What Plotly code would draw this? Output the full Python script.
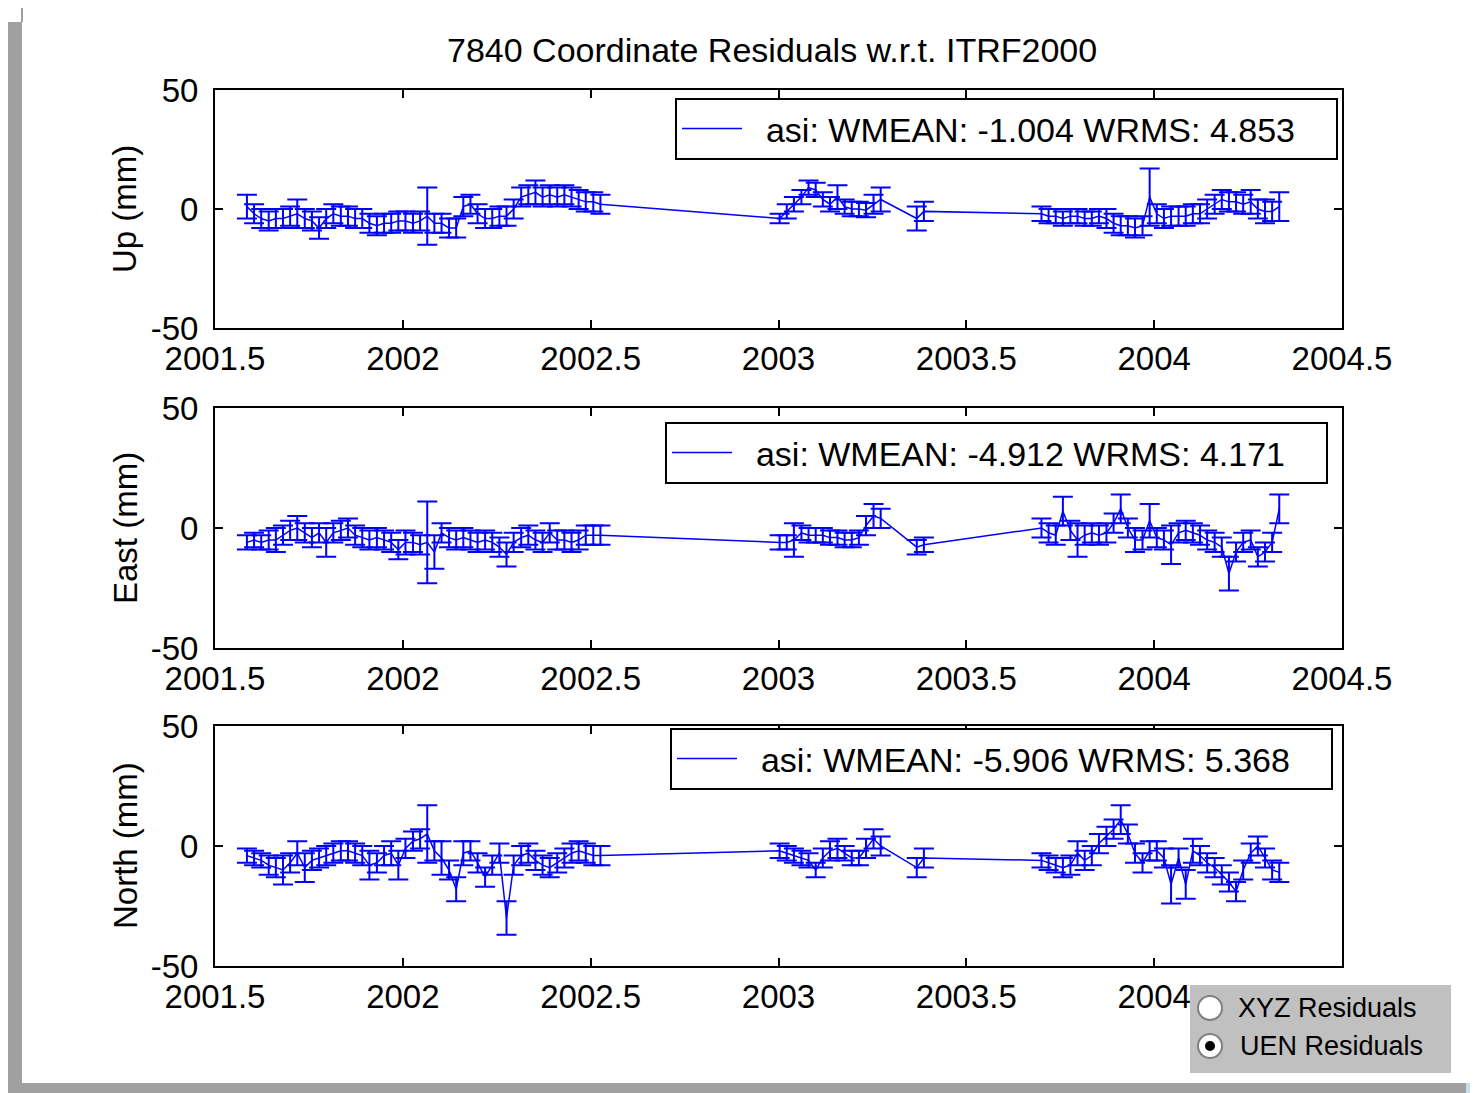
import plotly.graph_objects as go

# observation epochs (decimal year)
t = [2001.585, 2001.604, 2001.623, 2001.643, 2001.662, 2001.681, 2001.700, 2001.719, 2001.739, 2001.758,
     2001.777, 2001.796, 2001.815, 2001.835, 2001.854, 2001.873, 2001.892, 2001.911, 2001.931, 2001.950,
     2001.969, 2001.988, 2002.007, 2002.027, 2002.046, 2002.065, 2002.084, 2002.103, 2002.123, 2002.142,
     2002.161, 2002.180, 2002.199, 2002.219, 2002.238, 2002.257, 2002.276, 2002.295, 2002.315, 2002.334,
     2002.353, 2002.372, 2002.391, 2002.411, 2002.430, 2002.449, 2002.468, 2002.487, 2002.507, 2002.526,
     2003.003, 2003.022, 2003.041, 2003.061, 2003.080, 2003.099, 2003.118, 2003.137, 2003.157, 2003.176,
     2003.195, 2003.214, 2003.233, 2003.253, 2003.272, 2003.368, 2003.387,
     2003.700, 2003.719, 2003.738, 2003.757, 2003.777, 2003.796, 2003.815, 2003.834, 2003.853, 2003.873,
     2003.892, 2003.911, 2003.930, 2003.949, 2003.969, 2003.988, 2004.007, 2004.026, 2004.045, 2004.065,
     2004.084, 2004.103, 2004.122, 2004.141, 2004.161, 2004.180, 2004.199, 2004.218, 2004.237, 2004.257,
     2004.276, 2004.295, 2004.314, 2004.333]

up = [1, -2, -4, -5, -4, -4, -3, -2, -4, -5, -8, -4, -2, -3, -3, -4, -4, -6, -7, -6,
      -6, -5, -5, -6, -5, -3, -6, -6, -8, -8, 1, 2, -2, -4, -4, -3, -3, 0, 5, 6,
      7, 5, 6, 5, 6, 5, 4, 3, 3, 2,
      -4, -1, 2, 5, 9, 8, 4, 2, 5, 1, 0, 0, -0.5, 2, 4, -4, -1,
      -2, -3, -3, -4, -3, -3, -4, -4, -3, -4, -6, -7, -7, -8, -7, 5, -2, -4, -3, -3,
      -3, -2, -2, 0, 2, 4, 3, 3, 2, 3, 0, -1, -1, 1]
up_err = [5, 4, 4, 4, 4, 4, 4, 6, 4, 4, 4.5, 4, 4, 4, 4, 4, 4, 4, 4, 4,
          4, 4, 4, 4, 4, 12, 4, 4, 4, 4, 4, 4, 4, 4, 4, 4, 4, 4, 4, 4,
          5, 4, 4, 4, 4, 4, 4, 4, 4, 4,
          2, 3, 3, 3, 3, 3, 3, 3, 5, 3, 3, 3, 3, 4, 5, 5, 4,
          3, 3, 3, 3, 3, 3, 3, 3, 3, 4, 4, 4, 4, 4, 4, 12, 4, 4, 4, 4,
          4, 4, 4, 4, 4, 4, 4, 4, 4, 5, 4, 5, 4, 6]

east = [-6, -5, -6, -5, -5, -3, -1, 0, -2, -4, -2, -6, -2, -1, 0, -3, -4, -5, -4, -5,
        -6, -9, -6, -6, -7, -6, -10, -2, -4, -5, -4, -5, -6, -5, -6, -8, -11, -6, -4, -3,
        -5, -6, -2, -5, -5, -6, -5, -3, -3, -3,
        -6, -6, -5, -2, -3, -3, -3, -4, -4, -5, -5, -4, 1, 5, 4, -8, -7,
        0, -2, -3, 7, -1, -5, -3, -2, -3, -2, 2, 8, 0, -5, -5, 3, -4, -5, -7, -2,
        -1, -2, -3, -5, -6, -8, -19, -10, -6, -5, -12, -10, -6, 8]
east_err = [3, 3, 3, 4, 5, 4, 4, 5, 4, 4, 4, 6, 4, 4, 4, 4, 4, 4, 4, 4,
            4, 4, 5, 4, 4, 17, 7, 4, 4, 4, 4, 4, 4, 4, 4, 4, 5, 4, 4, 4,
            4, 4, 4, 4, 4, 4, 4, 4, 4, 4,
            3, 3, 7, 3, 3, 3, 3, 3, 3, 3, 3, 3, 4, 5, 4, 3, 3,
            4, 4, 4, 6, 4, 7, 4, 4, 4, 4, 4, 6, 4, 5, 4, 7, 4, 4, 8, 4,
            4, 4, 4, 4, 4, 4, 7, 4, 4, 4, 4, 4, 4, 6]

north = [-4, -5, -6, -8, -9, -10, -7, -3, -9, -6, -5, -4, -3, -2, -2, -3, -4, -8, -7, -4,
         -3, -8, -1, 2, 3, 5, -2, -5, -10, -18, -3, -2, -7, -13, -8, -3, -30, -8, -4, -3,
         -6, -8, -9, -7, -5, -3, -2, -3, -4, -4,
         -2, -3, -4, -5, -6, -10, -5, -2, -1, -3, -5, -5, -1, 3, 0, -9, -5,
         -6, -7, -8, -9, -8, -3, -6, -4, 1, 4, 7, 11, 5, -3, -7, -2, -2, -5, -16, -5,
         -16, -2, -4, -7, -9, -12, -15, -19, -10, -3, 0, -5, -10, -11]
north_err = [3, 3, 3, 4, 4, 6, 4, 5, 6, 4, 4, 4, 4, 4, 4, 4, 4, 6, 4, 4,
             5, 6, 4, 4, 4, 12, 4, 7, 4, 5, 5, 4, 4, 4, 4, 4, 7, 4, 4, 4,
             4, 4, 4, 4, 4, 4, 4, 4, 4, 4,
             3, 3, 3, 3, 3, 3, 4, 4, 4, 3, 3, 3, 4, 4, 4, 4, 4,
             3, 3, 3, 4, 4, 5, 4, 4, 4, 4, 4, 6, 4, 4, 4, 4, 4, 4, 8, 4,
             6, 5, 4, 4, 4, 4, 4, 4, 4, 4, 4, 4, 4, 4]

panels = [
    ("Up (mm)", up, up_err, "asi: WMEAN: -1.004 WRMS: 4.853"),
    ("East (mm)", east, east_err, "asi: WMEAN: -4.912 WRMS: 4.171"),
    ("North (mm)", north, north_err, "asi: WMEAN: -5.906 WRMS: 5.368"),
]

x_ticks = [2001.5, 2002, 2002.5, 2003, 2003.5, 2004, 2004.5]
x_labels = ["2001.5", "2002", "2002.5", "2003", "2003.5", "2004", "2004.5"]

FONT = "Liberation Sans, Arial, sans-serif"
BLUE = "#0000ff"

# page body has an 8px margin, so the figure is shrunk by that much
domains = [[0.7283, 1.0], [0.363, 0.637], [0.0, 0.274]]
legend_pos = [(0.9965, 0.9909), (0.9876, 0.621), (0.992, 0.2717)]


def px(x):
    return (x - 215) / 1127


def py(y):
    return (966 - y) / 876


label_y = [py(209), py(528), py(846)]

fig = go.Figure()
layout = dict(
    width=1470, height=1085,
    margin=dict(l=207, r=136, t=82, b=127),
    paper_bgcolor="white", plot_bgcolor="white",
    font=dict(family=FONT, size=33, color="black"),
    annotations=[], shapes=[],
)

for i, (name, vals, errs, leg) in enumerate(panels):
    n = "" if i == 0 else str(i + 1)
    lname = "legend" + n
    fig.add_trace(go.Scatter(
        x=t, y=vals, mode="lines", name="\u00a0\u00a0" + leg,
        line=dict(color=BLUE, width=1.5),
        error_y=dict(type="data", array=errs, visible=True,
                     color=BLUE, thickness=2, width=10),
        xaxis="x" + n, yaxis="y" + n, legend=lname, showlegend=True,
    ))
    axis_common = dict(
        showline=True, linecolor="black", linewidth=2, mirror="ticks",
        ticks="inside", ticklen=8, tickwidth=2, tickcolor="black",
        showgrid=False, zeroline=False,
        tickfont=dict(family=FONT, size=33, color="black"),
    )
    layout["xaxis" + n] = dict(
        axis_common, domain=[0, 1], range=[2001.5, 2004.5],
        tickmode="array", tickvals=x_ticks, ticktext=x_labels,
        anchor="y" + n, ticklabelstandoff=0,
    )
    layout["yaxis" + n] = dict(
        axis_common, domain=domains[i], range=[-50, 50],
        tickmode="array", tickvals=[-50, 0, 50], ticktext=["-50", "0", "50"],
        anchor="x" + n, ticklabelstandoff=8,
    )
    lx, ly = legend_pos[i]
    layout[lname] = dict(
        x=lx, y=ly, xanchor="right", yanchor="top",
        orientation="h", entrywidth=584, visible=True,
        bgcolor="white", bordercolor="black", borderwidth=2,
        font=dict(family=FONT, size=34, color="black"),
        itemwidth=60,
    )
    layout["annotations"].append(dict(
        text=name, textangle=-90, x=px(125), y=label_y[i],
        xref="paper", yref="paper", xanchor="center", yanchor="middle",
        showarrow=False, font=dict(family=FONT, size=33, color="black"),
    ))

layout["showlegend"] = True
layout["annotations"].append(dict(
    text="7840 Coordinate Residuals w.r.t. ITRF2000",
    x=px(772), y=py(50), xref="paper", yref="paper",
    xanchor="center", yanchor="middle", showarrow=False,
    font=dict(family=FONT, size=34, color="black"),
))

# window frame around the figure
layout["shapes"] += [
    dict(type="rect", xref="paper", yref="paper", x0=px(5), x1=px(22), y0=py(1083), y1=py(22),
         fillcolor="#a0a0a0", line=dict(width=0), layer="above"),
    dict(type="rect", xref="paper", yref="paper", x0=px(5), x1=px(1466), y0=py(1093), y1=py(1083),
         fillcolor="#a0a0a0", line=dict(width=0), layer="above"),
    dict(type="line", xref="paper", yref="paper", x0=px(22), x1=px(1478), y0=py(7), y1=py(7),
         line=dict(color="#a0a0a0", width=2), layer="above"),
    dict(type="line", xref="paper", yref="paper", x0=px(22), x1=px(22), y0=py(22), y1=py(7),
         line=dict(color="#a0a0a0", width=2), layer="above"),
    dict(type="rect", xref="paper", yref="paper", x0=px(1466), x1=px(1478), y0=py(1093), y1=py(1083),
         fillcolor="#c8dcf0", line=dict(width=0), layer="above"),
    # radio button panel
    dict(type="rect", xref="paper", yref="paper", x0=px(1190), x1=px(1451), y0=py(1073), y1=py(985),
         fillcolor="#c0c0c0", line=dict(width=0), layer="above"),
    dict(type="circle", xref="paper", yref="paper", x0=px(1198), x1=px(1222), y0=py(1020), y1=py(996),
         fillcolor="white", line=dict(color="#808080", width=2), layer="above"),
    dict(type="circle", xref="paper", yref="paper", x0=px(1198), x1=px(1222), y0=py(1058), y1=py(1034),
         fillcolor="white", line=dict(color="#808080", width=2), layer="above"),
    dict(type="circle", xref="paper", yref="paper", x0=px(1205), x1=px(1215), y0=py(1051), y1=py(1041),
         fillcolor="black", line=dict(width=0), layer="above"),
]
layout["annotations"] += [
    dict(text="XYZ Residuals", x=px(1236), y=py(1008), xref="paper", yref="paper",
         xanchor="left", yanchor="middle", showarrow=False,
         font=dict(family=FONT, size=27, color="black")),
    dict(text="UEN Residuals", x=px(1238), y=py(1046), xref="paper", yref="paper",
         xanchor="left", yanchor="middle", showarrow=False,
         font=dict(family=FONT, size=27, color="black")),
]

fig.update_layout(**layout)
fig.write_html("out.html")
